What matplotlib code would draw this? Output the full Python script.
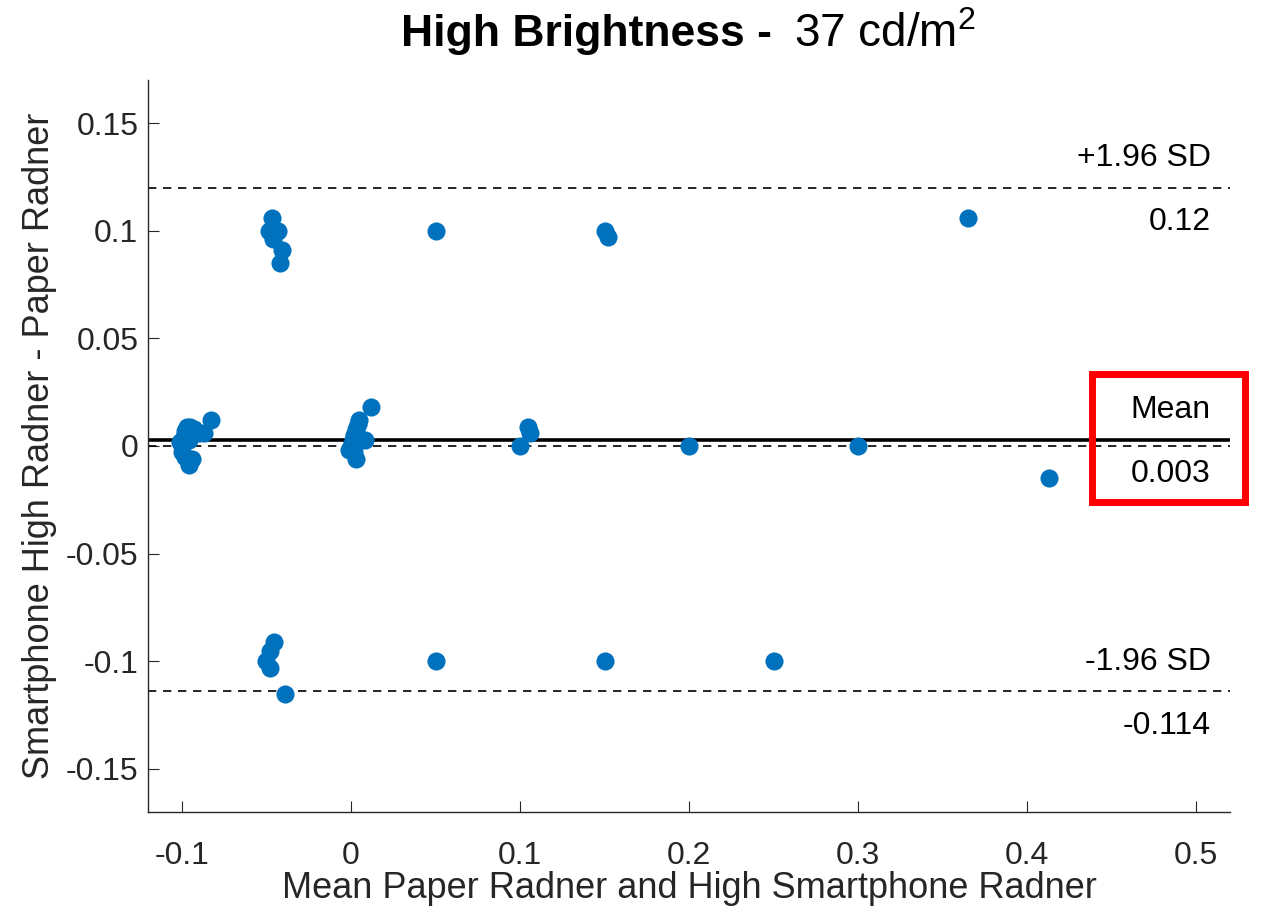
import matplotlib.pyplot as plt
from matplotlib.patches import Rectangle

plt.rcParams['font.family'] = ['Liberation Sans', 'DejaVu Sans']
plt.rcParams['mathtext.fontset'] = 'custom'
plt.rcParams['mathtext.rm'] = 'Liberation Sans'

# Bland-Altman data: mean of both methods vs. difference
mean_x = [
    # cluster around -0.1
    -0.100, -0.101, -0.099, -0.098, -0.097, -0.095, -0.093, -0.100, -0.098,
    -0.096, -0.094, -0.090, -0.087, -0.083, -0.096,
    # cluster around 0
    0.000, 0.001, 0.002, 0.003, 0.004, 0.005, 0.006, 0.008, 0.012, 0.002,
    0.003, -0.001,
    # cluster around -0.05 (upper)
    -0.047, -0.0485, -0.043, -0.046, -0.041, -0.042,
    # cluster around -0.05 (lower)
    -0.0455, -0.048, -0.050, -0.048, -0.039,
    # isolated points
    0.050, 0.150, 0.152, 0.365,
    0.105, 0.106, 0.100, 0.200, 0.300, 0.413,
    0.050, 0.150, 0.250,
]
diff_y = [
    0.000, 0.002, 0.004, 0.007, 0.009, 0.009, 0.008, -0.003, -0.005,
    -0.009, -0.006, 0.006, 0.006, 0.012, 0.003,
    0.000, 0.003, 0.005, 0.008, 0.010, 0.012, 0.003, 0.003, 0.018, -0.003,
    -0.006, -0.002,
    0.106, 0.100, 0.100, 0.096, 0.091, 0.085,
    -0.091, -0.095, -0.100, -0.103, -0.115,
    0.100, 0.100, 0.097, 0.106,
    0.009, 0.006, 0.000, 0.000, 0.000, -0.015,
    -0.100, -0.100, -0.100,
]

mean_diff = 0.003
upper_loa = 0.12
lower_loa = -0.114

fig = plt.figure(figsize=(12.66, 9.14), dpi=100)
ax = fig.add_axes([0.117, 0.1116, 0.8546, 0.8009])

ax.scatter(mean_x, diff_y, s=170, color='#0072BD', zorder=3, linewidths=0)

xmin, xmax = -0.12, 0.52
ax.hlines(mean_diff, xmin, xmax, color='black', lw=2.6, zorder=2)
ax.hlines(0, xmin, xmax, color='black', lw=1.2, ls=(0, (5, 4)), zorder=2)
ax.hlines([upper_loa, lower_loa], xmin, xmax, color='black', lw=1.2,
          ls=(0, (5, 4)), zorder=2)

tx = 0.5086
labels = [('+1.96 SD', upper_loa, '%.2f' % upper_loa),
          ('Mean', mean_diff, '%.3f' % mean_diff),
          ('-1.96 SD', lower_loa, '%.3f' % lower_loa)]
for name, val, txt in labels:
    ax.annotate(name, (tx, val), xytext=(0, 21), textcoords='offset points',
                ha='right', va='center', fontsize=23)
    ax.annotate(txt, (tx, val), xytext=(0, -25), textcoords='offset points',
                ha='right', va='center', fontsize=23)

# highlight box round the mean label
ax.add_patch(Rectangle((0.4381, -0.0258), 0.0908, 0.0591, fill=False,
                       edgecolor='#FF0000', lw=5, clip_on=False, zorder=4))

ax.set_xlim(xmin, xmax)
ax.set_ylim(-0.17, 0.17)
ax.set_xticks([-0.1, 0, 0.1, 0.2, 0.3, 0.4, 0.5])
ax.set_xticklabels(['-0.1', '0', '0.1', '0.2', '0.3', '0.4', '0.5'])
ax.set_yticks([-0.15, -0.1, -0.05, 0, 0.05, 0.1, 0.15])
ax.set_yticklabels(['-0.15', '-0.1', '-0.05', '0', '0.05', '0.1', '0.15'])

for s in ['top', 'right']:
    ax.spines[s].set_visible(False)
for s in ['left', 'bottom']:
    ax.spines[s].set_color('#262626')
    ax.spines[s].set_linewidth(1.0)
ax.tick_params(direction='in', length=8, colors='#262626', labelsize=23)
ax.tick_params(axis='x', pad=21)
ax.tick_params(axis='y', pad=7)

ax.set_xlabel('Mean Paper Radner and High Smartphone Radner', fontsize=26,
              color='#262626', labelpad=0)
ax.set_ylabel('Smartphone High Radner - Paper Radner', fontsize=26,
              color='#262626', labelpad=6)

# title: bold part and regular part side by side
fig.text(0.61, 0.962, 'High Brightness -', ha='right', va='center',
         fontsize=32, fontweight='bold')
fig.text(0.627, 0.962, r'37 cd/m$^{2}$', ha='left', va='center', fontsize=33)

fig.savefig('out.png', dpi=100)
